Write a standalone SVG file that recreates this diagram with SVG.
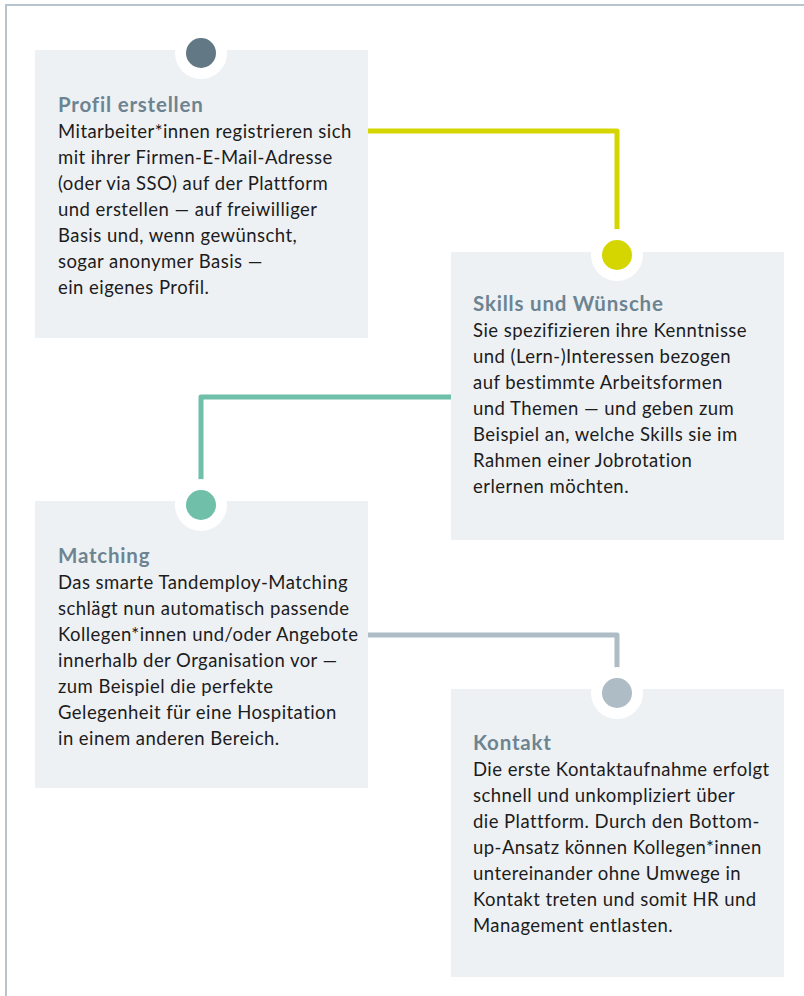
<svg xmlns="http://www.w3.org/2000/svg" width="804" height="996" viewBox="0 0 804 996">
<style>
.box{fill:#eef1f4}
.halo{fill:#ffffff}
.title{font-family:Lato,"Open Sans",sans-serif;font-weight:700;font-size:20.5px;letter-spacing:0.8px;fill:#6c8491}
.body{font-family:Lato,"Open Sans",sans-serif;font-size:18.5px;letter-spacing:0.45px;fill:#1c1c1c}
.conn{fill:none;stroke-width:5;stroke-linejoin:round}
</style>
<rect width="804" height="996" fill="#ffffff"/>
<path d="M6,996 V5 H804" fill="none" stroke="#b8c4cd" stroke-width="2"/>
<g id="connectors">
<path class="conn" stroke="#d5d600" d="M368,131 H617 V230"/>
<path class="conn" stroke="#6fbfa9" d="M451,397 H201 V480"/>
<path class="conn" stroke="#aebcc5" d="M368,635 H617 V668"/>
</g>
<g id="node-profil">
<rect class="box" x="35" y="50" width="333" height="288"/>
<circle class="halo" cx="201" cy="53" r="26"/>
<circle cx="201" cy="53" r="15" fill="#627884"/>
<text class="title" x="58" y="112">Profil erstellen</text>
<text class="body" x="58" y="138">Mitarbeiter*innen registrieren sich</text>
<text class="body" x="58" y="164">mit ihrer Firmen-E-Mail-Adresse</text>
<text class="body" x="58" y="190">(oder via SSO) auf der Plattform</text>
<text class="body" x="58" y="216">und erstellen — auf freiwilliger</text>
<text class="body" x="58" y="242">Basis und, wenn gewünscht,</text>
<text class="body" x="58" y="268">sogar anonymer Basis —</text>
<text class="body" x="58" y="294">ein eigenes Profil.</text>
</g>
<g id="node-skills">
<rect class="box" x="451" y="252" width="333" height="288"/>
<circle class="halo" cx="617" cy="255" r="26"/>
<circle cx="617" cy="255" r="15" fill="#d5d600"/>
<text class="title" x="473" y="311">Skills und Wünsche</text>
<text class="body" x="473" y="337">Sie spezifizieren ihre Kenntnisse</text>
<text class="body" x="473" y="363">und (Lern-)Interessen bezogen</text>
<text class="body" x="473" y="389">auf bestimmte Arbeitsformen</text>
<text class="body" x="473" y="415">und Themen — und geben zum</text>
<text class="body" x="473" y="441">Beispiel an, welche Skills sie im</text>
<text class="body" x="473" y="467">Rahmen einer Jobrotation</text>
<text class="body" x="473" y="493">erlernen möchten.</text>
</g>
<g id="node-matching">
<rect class="box" x="35" y="501" width="333" height="287"/>
<circle class="halo" cx="201" cy="505" r="26"/>
<circle cx="201" cy="505" r="15" fill="#6fbfa9"/>
<text class="title" x="58" y="563">Matching</text>
<text class="body" x="58" y="589">Das smarte Tandemploy-Matching</text>
<text class="body" x="58" y="615">schlägt nun automatisch passende</text>
<text class="body" x="58" y="641">Kollegen*innen und/oder Angebote</text>
<text class="body" x="58" y="667">innerhalb der Organisation vor —</text>
<text class="body" x="58" y="693">zum Beispiel die perfekte</text>
<text class="body" x="58" y="719">Gelegenheit für eine Hospitation</text>
<text class="body" x="58" y="745">in einem anderen Bereich.</text>
</g>
<g id="node-kontakt">
<rect class="box" x="451" y="689" width="333" height="288"/>
<circle class="halo" cx="617" cy="693" r="26"/>
<circle cx="617" cy="693" r="15" fill="#aebcc5"/>
<text class="title" x="473" y="750">Kontakt</text>
<text class="body" x="473" y="776">Die erste Kontaktaufnahme erfolgt</text>
<text class="body" x="473" y="802">schnell und unkompliziert über</text>
<text class="body" x="473" y="828">die Plattform. Durch den Bottom-</text>
<text class="body" x="473" y="854">up-Ansatz können Kollegen*innen</text>
<text class="body" x="473" y="880">untereinander ohne Umwege in</text>
<text class="body" x="473" y="906">Kontakt treten und somit HR und</text>
<text class="body" x="473" y="932">Management entlasten.</text>
</g>
</svg>
